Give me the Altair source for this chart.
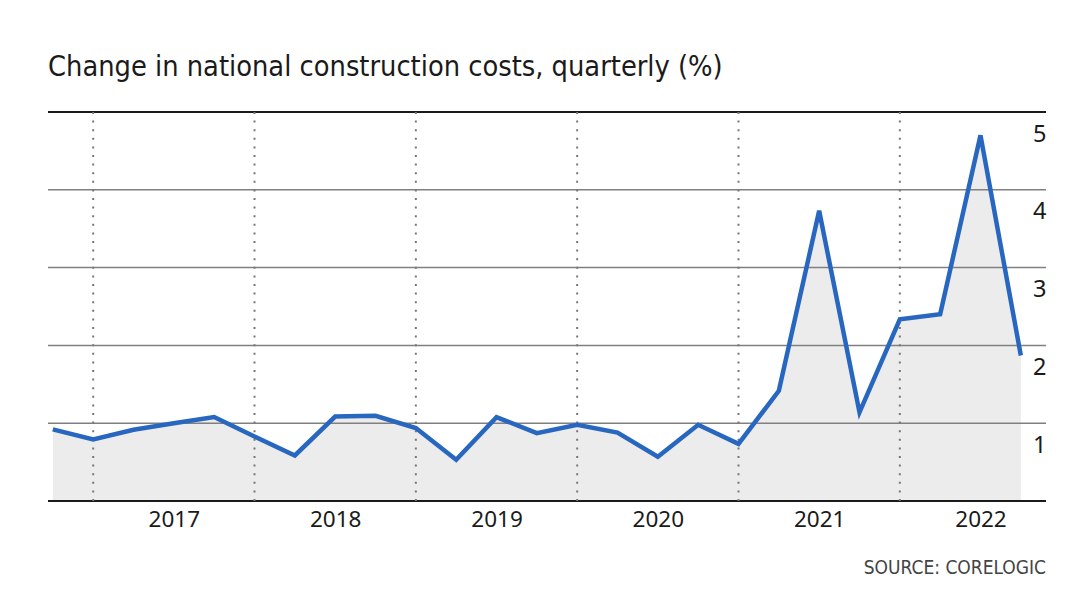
import altair as alt
import pandas as pd

title_text = "Change in national construction costs, quarterly (%)"
source_text = "SOURCE: CORELOGIC"

quarters = [
    "2016-Q3", "2016-Q4",
    "2017-Q1", "2017-Q2", "2017-Q3", "2017-Q4",
    "2018-Q1", "2018-Q2", "2018-Q3", "2018-Q4",
    "2019-Q1", "2019-Q2", "2019-Q3", "2019-Q4",
    "2020-Q1", "2020-Q2", "2020-Q3", "2020-Q4",
    "2021-Q1", "2021-Q2", "2021-Q3", "2021-Q4",
    "2022-Q1", "2022-Q2", "2022-Q3",
]
change_pct = [
    0.92, 0.79,
    0.915, 1.0, 1.08, 0.83,
    0.585, 1.086, 1.095, 0.937,
    0.53, 1.078, 0.873, 0.98,
    0.88, 0.57, 0.98, 0.735,
    1.416, 3.73, 1.14, 2.336,
    2.40, 4.70, 1.87,
]
year_labels = [2017, 2018, 2019, 2020, 2021, 2022]
y_ticks = [1, 2, 3, 4, 5]
grid_levels = [0, 1, 2, 3, 4, 5]


def quarter_end(q):
    y, qq = q.split("-Q")
    return int(y) + int(qq) / 4.0


df = pd.DataFrame({"t": [quarter_end(q) for q in quarters], "v": change_pct})
bounds_df = pd.DataFrame({"t": year_labels})
grid_df = pd.DataFrame({"v": grid_levels})

W, H = 998, 389

x_scale = alt.Scale(domain=[2016.72, 2022.906], nice=False, zero=False)
y_scale = alt.Scale(domain=[0, 5], nice=False)

x_axis = alt.Axis(
    values=[y + 0.5 for y in year_labels],
    labelExpr="floor(datum.value)",
    grid=False, domain=False, ticks=False,
    labelFont="Noto Sans", labelFontSize=22.5, labelColor="#1a1a1a",
    labelPadding=7, title=None, labelFlush=False,
)
y_axis = alt.Axis(
    orient="right", values=y_ticks, grid=False, domain=False, ticks=False,
    labelAlign="right", labelBaseline="alphabetic", labelOffset=29, labelPadding=0,
    labelFont="Noto Sans", labelFontSize=23.5, labelColor="#1a1a1a", title=None,
)

X = alt.X("t:Q", scale=x_scale, axis=x_axis)
Y = alt.Y("v:Q", scale=y_scale, axis=y_axis)

area = alt.Chart(df).mark_area(color="#ececec").encode(x=X, y=Y)

grid = alt.Chart(grid_df).mark_rule().encode(
    y=Y,
    color=alt.condition("datum.v == 0 || datum.v == 5", alt.value("#1a1a1a"), alt.value("#808080")),
    strokeWidth=alt.condition("datum.v == 0 || datum.v == 5", alt.value(2), alt.value(1.5)),
)

bounds = alt.Chart(bounds_df).mark_rule(
    color="#777777", strokeWidth=2, strokeDash=[2, 6.6]
).encode(x=X)

line = alt.Chart(df).mark_line(color="#2867c0", strokeWidth=4.5).encode(x=X, y=Y)

title = alt.Chart(pd.DataFrame({"s": [title_text]})).mark_text(
    align="left", baseline="alphabetic", font="DejaVu Sans Condensed",
    fontSize=28.7, color="#1a1a1a",
).encode(text="s:N", x=alt.value(0), y=alt.value(-36))

source = alt.Chart(pd.DataFrame({"s": [source_text]})).mark_text(
    align="right", baseline="alphabetic", font="DejaVu Sans Condensed",
    fontSize=19, color="#444444",
).encode(text="s:N", x=alt.value(W), y=alt.value(462))

chart = alt.layer(area, grid, bounds, line, title, source).properties(
    width=W, height=H,
    autosize=alt.AutoSizeParams(type="none"),
    padding={"left": 48, "top": 112, "right": 34, "bottom": 112},
    background="white",
).configure_view(stroke=None)

chart.save("out.html", embed_options={"renderer": "svg", "actions": False})
